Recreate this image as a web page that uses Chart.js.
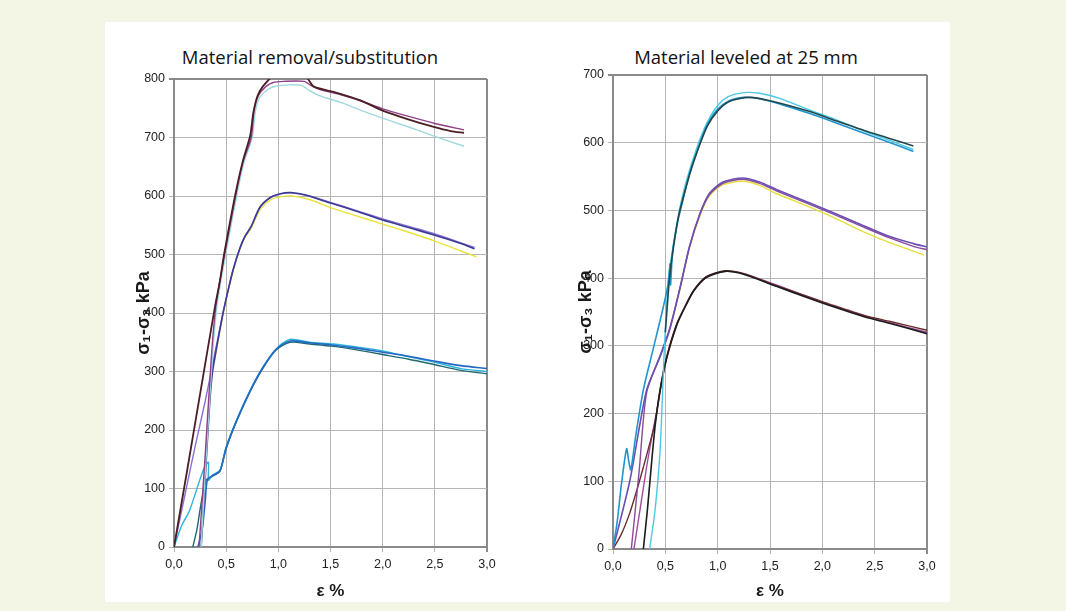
<!DOCTYPE html>
<html>
<head>
<meta charset="utf-8">
<script src="https://cdn.jsdelivr.net/npm/chart.js@4.4.0/dist/chart.umd.min.js"></script>
<style>
  body { margin: 0; width: 1066px; height: 611px; background: #f3f5e5; position: relative; overflow: hidden; }
  #panel { position: absolute; left: 105px; top: 22px; width: 845px; height: 580px; background: #fff; }
  .title { position: absolute; font-family: "Open Sans", sans-serif; font-size: 18.5px; color: #111;
           white-space: nowrap; transform: translateX(-50%); }
  .box { position: absolute; top: 22px; height: 580px; }
</style>
</head>
<body>
<div id="panel"></div>
<div class="title" style="left:310px; top:44px">Material removal/substitution</div>
<div class="title" style="left:746px; top:44px">Material leveled at 25 mm</div>
<div class="box" style="left:105px; width:440px"><canvas id="chart-left"></canvas></div>
<div class="box" style="left:545px; width:405px"><canvas id="chart-right"></canvas></div>
<script>
// strain (%) / deviator stress (kPa) pairs
const strainTicks = [0, 0.5, 1, 1.5, 2, 2.5, 3];
const leftStressTicks = [0, 100, 200, 300, 400, 500, 600, 700, 800];
const rightStressTicks = [0, 100, 200, 300, 400, 500, 600, 700];

// left: material removal/substitution
const remTopBrown = [[0,0],[0.13,135],[0.26,272],[0.39,408],[0.44,455],[0.48,500],[0.585,600],[0.66,660],[0.73,703],[0.76,742],[0.8,771],[0.85,787],[0.92,801],[1.0,815],[1.2,815],[1.28,801],[1.34,787],[1.53,778],[1.78,764],[2.0,746],[2.23,732],[2.49,718],[2.65,711],[2.78,708]];
const remTopPurple = [[0.24,0],[0.3,160],[0.36,330],[0.4,410],[0.44,455],[0.49,505],[0.59,600],[0.66,657],[0.74,700],[0.77,748],[0.81,772],[0.88,787],[0.95,794],[1.05,796],[1.25,796],[1.31,789],[1.4,782],[1.6,773],[1.8,762],[2.0,749],[2.25,736],[2.5,724],[2.78,713]];
const remTopCyan = [[0.26,0],[0.31,160],[0.37,330],[0.41,410],[0.45,455],[0.5,505],[0.6,600],[0.67,657],[0.75,700],[0.78,745],[0.82,768],[0.9,782],[0.98,788],[1.1,790],[1.22,789],[1.3,780],[1.4,771],[1.6,760],[1.8,746],[2.0,733],[2.25,718],[2.5,702],[2.78,685]];
const remMidBlue = [[0.26,0],[0.3,120],[0.34,240],[0.37,300],[0.47,400],[0.52,440],[0.57,476],[0.63,510],[0.68,531],[0.74,548],[0.82,580],[0.92,597],[1.02,604],[1.12,606],[1.25,602],[1.5,588],[1.75,574],[2.0,559],[2.25,546],[2.5,533],[2.75,519],[2.88,510]];
const remMidPurple = [[0,0],[0.1,85],[0.2,170],[0.3,250],[0.39,330],[0.47,400],[0.52,440],[0.57,476],[0.63,510],[0.68,531],[0.74,548],[0.83,582],[0.93,598],[1.03,604],[1.13,605],[1.3,600],[1.5,589],[1.75,575],[2.0,561],[2.25,548],[2.5,535],[2.75,520],[2.88,512]];
const remMidYellow = [[0.39,320],[0.47,398],[0.52,438],[0.57,474],[0.63,508],[0.68,529],[0.74,545],[0.83,578],[0.93,594],[1.03,599],[1.13,600],[1.3,594],[1.5,580],[1.75,566],[2.0,552],[2.25,538],[2.5,523],[2.75,506],[2.9,496]];
const remLowCyan = [[0,0],[0.07,35],[0.15,63],[0.28,131],[0.33,145],[0.33,114],[0.37,123],[0.44,131],[0.5,171],[0.6,217],[0.73,268],[0.85,307],[0.98,339],[1.11,355],[1.3,350],[1.53,347],[1.75,342],[2.0,335],[2.25,325],[2.49,316],[2.75,305],[3.0,300]];
const remLowBlue = [[0.23,0],[0.27,30],[0.3,80],[0.32,115],[0.37,122],[0.44,130],[0.5,170],[0.6,216],[0.73,267],[0.85,306],[0.98,338],[1.11,352],[1.3,349],[1.53,345],[1.75,340],[2.0,333],[2.25,326],[2.49,318],[2.75,310],[3.0,305]];
const remLowTeal = [[0.18,0],[0.22,30],[0.26,75],[0.31,115],[0.37,121],[0.44,129],[0.5,168],[0.6,215],[0.73,266],[0.85,305],[0.98,337],[1.11,350],[1.3,347],[1.53,343],[1.75,337],[2.0,329],[2.25,321],[2.49,312],[2.75,302],[3.0,296]];

// right: material leveled at 25 mm
const levTopBlue = [[0,0],[0.04,40],[0.08,95],[0.13,148],[0.15,130],[0.17,117],[0.22,170],[0.29,235],[0.38,293],[0.48,357],[0.53,395],[0.545,421],[0.55,390],[0.57,440],[0.62,485],[0.66,510],[0.73,554],[0.8,586],[0.89,623],[0.99,648],[1.11,662],[1.25,667],[1.4,665],[1.6,657],[1.88,643],[2.1,631],[2.4,614],[2.65,600],[2.87,587]];
const levTopCyan = [[0.35,0],[0.4,55],[0.45,146],[0.49,293],[0.53,400],[0.58,452],[0.63,497],[0.7,543],[0.8,592],[0.9,630],[1.0,655],[1.1,668],[1.25,674],[1.4,673],[1.6,665],[1.88,648],[2.1,636],[2.4,617],[2.65,603],[2.87,590]];
const levTopTeal = [[0.5,320],[0.54,400],[0.58,448],[0.63,494],[0.73,552],[0.8,585],[0.9,624],[1.0,647],[1.11,661],[1.3,667],[1.5,662],[1.88,646],[2.1,634],[2.4,618],[2.65,606],[2.87,595]];
const levMidPurple = [[0,0],[0.16,100],[0.32,234],[0.45,284],[0.54,323],[0.64,385],[0.73,446],[0.83,495],[0.92,525],[1.05,542],[1.24,548],[1.4,542],[1.56,531],[1.88,511],[2.1,497],[2.4,477],[2.65,461],[2.87,451],[3.0,446]];
const levMidMauve = [[0.175,0],[0.25,115],[0.32,230],[0.45,286],[0.54,325],[0.64,386],[0.73,446],[0.83,494],[0.92,523],[1.05,540],[1.24,546],[1.4,540],[1.56,529],[1.88,509],[2.1,495],[2.4,475],[2.65,459],[2.87,447],[3.0,442]];
const levMidYellow = [[0.55,328],[0.64,384],[0.73,444],[0.83,492],[0.92,521],[1.05,538],[1.24,543],[1.4,537],[1.56,525],[1.88,505],[2.1,490],[2.4,468],[2.65,452],[2.87,440],[2.97,434]];
const levLowBrown = [[0,0],[0.08,22],[0.16,53],[0.23,88],[0.29,121],[0.35,155],[0.4,185],[0.45,236],[0.51,282],[0.61,333],[0.7,362],[0.77,382],[0.89,402],[1.07,411],[1.24,407],[1.56,389],[1.88,372],[2.1,360],[2.4,345],[2.65,336],[3.0,323]];
const levLowBlack = [[0.29,0],[0.33,60],[0.37,130],[0.405,185],[0.45,234],[0.51,280],[0.61,331],[0.7,361],[0.77,381],[0.89,401],[1.07,410],[1.24,406],[1.56,388],[1.88,370],[2.1,358],[2.4,343],[2.65,333],[3.0,318]];
const levLowMagenta = [[0.2,0],[0.26,60],[0.32,120],[0.37,165],[0.42,205],[0.47,250],[0.53,293],[0.62,336],[0.71,364],[0.8,388],[0.9,403],[1.07,410],[1.24,407],[1.56,390],[1.88,371],[2.1,359],[2.4,344],[2.65,334],[3.0,320]];

const tickFont = { family: 'Liberation Sans', size: 12.5 };
const xTitleFont = { family: 'Liberation Sans', size: 17, weight: 'bold' };
const yTitleFont = { family: 'Liberation Sans', size: 18, weight: 'bold' };
const gridColor = '#b5b5b5';
const frameColor = '#8a8a8a';

function serie(points, color, width) {
    return {
        data: points.map(([x, y]) => ({ x, y })),
        borderColor: color,
        borderWidth: width || 1.4,
        showLine: true,
        pointRadius: 0,
        tension: 0.25,
        fill: false
    };
}

function criarGrafico(id, datasets, stressTicks, area) {
    const yMax = stressTicks[stressTicks.length - 1];
    const config = {
        type: 'scatter',
        data: { datasets },
        options: {
            responsive: true,
            maintainAspectRatio: false,
            animation: false,
            layout: { padding: { top: area.top, right: area.right, left: 0, bottom: 0 } },
            plugins: { legend: { display: false }, tooltip: { enabled: false } },
            scales: {
                x: {
                    type: 'linear', min: 0, max: 3,
                    afterBuildTicks: axis => { axis.ticks = strainTicks.map(v => ({ value: v })); },
                    afterFit: axis => { axis.height = area.bottom; },
                    grid: {
                        color: c => c.tick && c.tick.value === 3 ? frameColor : gridColor,
                        lineWidth: c => c.tick && c.tick.value === 3 ? 2 : 1,
                        tickLength: 5
                    },
                    border: { color: frameColor, width: 2 },
                    ticks: {
                        font: tickFont, color: '#222', padding: 5, maxRotation: 0, autoSkip: false,
                        callback: v => v.toFixed(1).replace('.', ',')
                    },
                    title: { display: true, text: 'ε %', font: xTitleFont, color: '#1a1a1a', padding: { top: 19, bottom: 0 } }
                },
                y: {
                    type: 'linear', min: 0, max: yMax,
                    afterBuildTicks: axis => { axis.ticks = stressTicks.map(v => ({ value: v })); },
                    afterFit: axis => { axis.width = area.left; },
                    grid: {
                        color: c => c.tick && c.tick.value === yMax ? frameColor : gridColor,
                        lineWidth: c => c.tick && c.tick.value === yMax ? 2 : 1,
                        tickLength: 5
                    },
                    border: { color: frameColor, width: 2 },
                    ticks: { font: tickFont, color: '#222', padding: 4 },
                    title: { display: true, text: 'σ₁-σ₃ kPa', font: yTitleFont, color: '#1a1a1a', padding: { top: area.yTitle, bottom: 0 } }
                }
            }
        }
    };
    const ctx = document.getElementById(id).getContext('2d');
    new Chart(ctx, config);
}

criarGrafico('chart-left', [
    serie(remTopBrown, '#4a1e24', 1.8),
    serie(remTopPurple, '#8e3f86'),
    serie(remTopCyan, '#9fd8df'),
    serie(remMidBlue, '#3b3b95', 1.6),
    serie(remMidPurple, '#8a6fd0'),
    serie(remMidYellow, '#e8e23a'),
    serie(remLowBlue, '#2468c4', 1.6),
    serie(remLowCyan, '#2fb3da'),
    serie(remLowTeal, '#1d6a6e')
], leftStressTicks, { top: 57, right: 58, bottom: 55, left: 69, yTitle: 28 });

criarGrafico('chart-right', [
    serie(levTopTeal, '#21474f', 1.6),
    serie(levTopBlue, '#1f95d0', 1.6),
    serie(levTopCyan, '#4cc9e2'),
    serie(levMidPurple, '#6b4fb5', 1.6),
    serie(levMidMauve, '#8a4a9a'),
    serie(levMidYellow, '#e6de3a'),
    serie(levLowBlack, '#1c1c1c', 1.6),
    serie(levLowBrown, '#6b2d2d'),
    serie(levLowMagenta, '#a04aa0')
], rightStressTicks, { top: 53, right: 23, bottom: 53, left: 68, yTitle: 30 });
</script>
</body>
</html>
